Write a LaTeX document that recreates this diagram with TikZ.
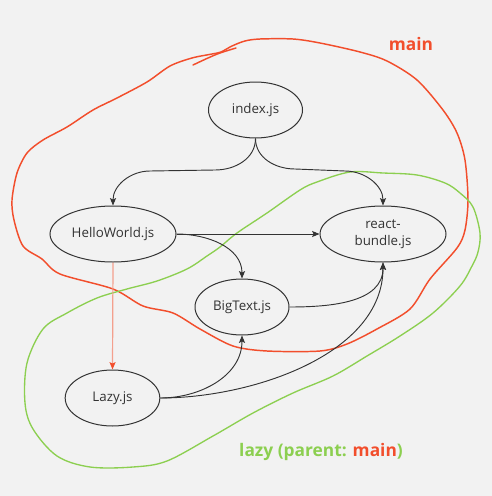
\documentclass[tikz,border=0pt]{standalone}
\usepackage{fontspec}
\setmainfont{Open Sans}
\usetikzlibrary{shapes.geometric,arrows.meta}
\definecolor{bgc}{HTML}{F2F2F2}
\definecolor{ink}{HTML}{333333}
\definecolor{mainred}{HTML}{F24E2C}
\definecolor{salmon}{HTML}{F4A08E}
\definecolor{lazygreen}{HTML}{8CCF50}
\tikzset{
  nd/.style={ellipse, draw=ink, line width=0.75pt, text=ink, inner sep=0pt,
    minimum height=42pt, align=center, font=\fontsize{10}{13}\selectfont},
  arr/.style={draw=ink, line width=0.7pt, -{Stealth[length=5.5pt,width=4.5pt,inset=1pt]}},
  redarr/.style={draw=salmon, line width=0.9pt, -{Stealth[length=5.5pt,width=4.5pt,inset=1pt,color=mainred]}},
  blobred/.style={draw=mainred, line width=1.1pt, line join=round, line cap=round},
  blobgreen/.style={draw=lazygreen, line width=1.0pt, line join=round, line cap=round},
  lbl/.style={font=\bfseries\fontsize{13}{15}\selectfont, inner sep=0pt}
}
\begin{document}
\begin{tikzpicture}[x=0.75pt,y=-0.75pt]
\fill[bgc] (0,0) rectangle (492,496);
\useasboundingbox (0,0) rectangle (492,496);

% red blob (main)
\draw[blobred] plot[smooth cycle, tension=0.5] coordinates {
 (232,46) (245,41) (260,39) (293,39) (320,43) (360,52) (387,61) (417,80) (443,110)
 (457,133) (465,160) (468,200) (465,230) (457,248) (430,279) (410,309)
 (377,329) (347,344) (320,351) (267,351) (233,346) (200,329) (173,313)
 (143,306) (113,289) (60,274) (42,259) (23,246) (14,220) (12,200) (17,173)
 (27,153) (43,140) (67,127) (93,110) (117,98) (147,82) (170,66) (192,58) (212,54) (221,52)};
\draw[blobred] plot[smooth, tension=0.5] coordinates {(193,65) (208,58) (220,53) (236,48)};

% green blob (lazy)
\draw[blobgreen] plot[smooth cycle, tension=0.55] coordinates {
 (350,172) (383,173) (417,175) (445,183) (460,193) (473,207) (480,233)
 (478,252) (472,266) (460,286) (433,313) (400,336) (367,356) (333,376)
 (293,393) (253,413) (213,436) (167,461) (133,467) (90,467) (57,456)
 (33,429) (25,403) (27,363) (43,329) (67,313) (97,298) (127,289) (157,281)
 (187,269) (207,256) (220,247) (237,233) (267,213) (300,190) (317,182)};

% nodes
\node[nd, minimum width=70.5pt] (index) at (255.5,110) {index.js};
\node[nd, minimum width=94.5pt] (hello) at (113,234) {HelloWorld.js};
\node[nd, minimum width=94.5pt] (react) at (383,234) {react-\\bundle.js};
\node[nd, minimum width=70.5pt] (big) at (242,307) {BigText.js};
\node[nd, minimum width=71pt] (lazy) at (112.5,398) {Lazy.js};

% edges
\draw[arr] (index.south) to[out=-90,in=0] (215,170) -- (150,171) to[out=180,in=90] (hello.north);
\draw[arr] (index.south) to[out=-90,in=180] (295,169) -- (345,171) to[out=0,in=90] (react.north);
\draw[arr] (hello.east) -- (react.west);
\draw[arr] (hello.east) to[out=0,in=90] (big.north);
\draw[arr] (big.east) to[out=0,in=-90] (react.south);
\draw[arr] (lazy.east) to[out=0,in=-90] (big.south);
\draw[arr] (lazy.east) to[out=0,in=-90,looseness=0.9] (react.south);
\draw[redarr] (hello.south) -- (lazy.north);

% labels
\node[lbl, text=mainred] (mainlbl) at (411,44) {main};
\node[lbl, text=lazygreen] (lazylbl) at (321,452) {lazy (parent: \textcolor{mainred}{main})};
\end{tikzpicture}
\end{document}
